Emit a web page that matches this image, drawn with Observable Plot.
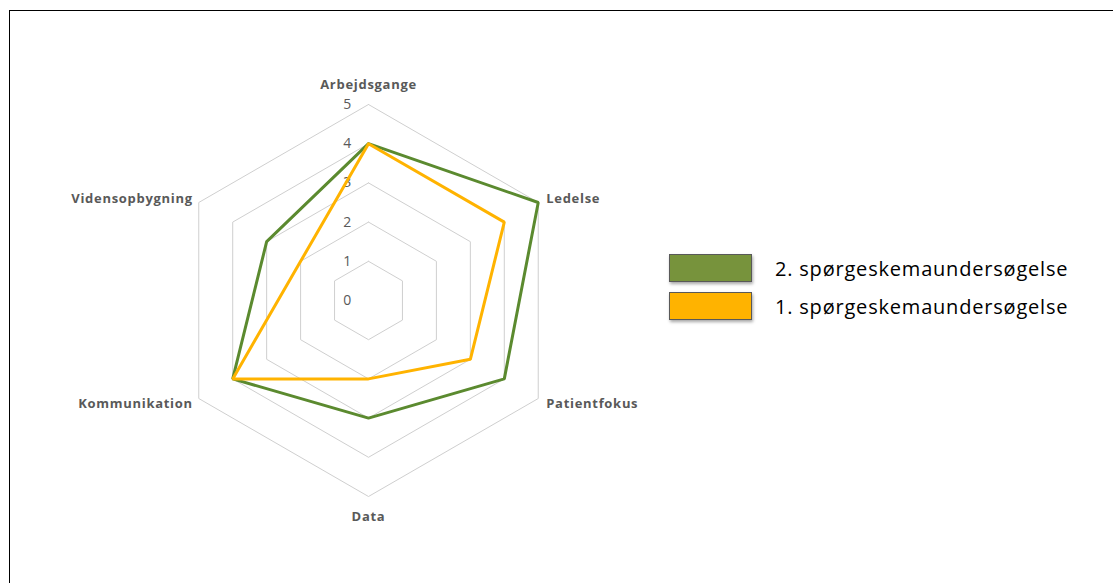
<!DOCTYPE html>
<html>
<head>
<meta charset="utf-8">
<script src="https://cdn.jsdelivr.net/npm/d3@7"></script>
<script src="https://cdn.jsdelivr.net/npm/@observablehq/plot@0.6"></script>
<style>
  html, body { margin: 0; padding: 0; background: #fff; overflow: hidden; }
  #wrap { position: relative; width: 1113px; height: 583px; overflow: hidden; }
  #frame { position: absolute; left: 9px; top: 10px; width: 1130px; height: 600px; border: 1.5px solid #000; box-sizing: border-box; }
  #chart { position: absolute; left: 0; top: 0; }
  .leg { position: absolute; left: 669px; display: flex; align-items: center; font-family: "Open Sans", Lato, sans-serif; font-size: 20px; letter-spacing: 0.8px; color: #000; }
  .sw { width: 83px; height: 28px; border: 1.5px solid #595959; box-sizing: border-box; margin-right: 23px; box-shadow: 1px 2px 3px rgba(0,0,0,0.35); }
</style>
</head>
<body>
<div id="wrap">
  <div id="frame"></div>
  <div id="chart"></div>
  <div id="legend"></div>
</div>
<script>
const categories = ["Arbejdsgange", "Ledelse", "Patientfokus", "Data", "Kommunikation", "Vidensopbygning"];
const survey2 = [4, 5, 4, 3, 4, 3];
const survey1 = [4, 4, 3, 2, 4, 2];
const ticks = [0, 1, 2, 3, 4, 5];
const seriesNames = ["2. spørgeskemaundersøgelse", "1. spørgeskemaundersøgelse"];
const seriesColors = ["#5B8A2F", "#FFB300"];
const legendColors = ["#77933C", "#FFB300"];

const W = 1113, H = 583, cx = 368, cy = 300, unit = 39.2;
const n = categories.length;
const ang = i => (i * 2 * Math.PI) / n;
const px = (r, i) => r * Math.sin(ang(i));
const py = (r, i) => r * Math.cos(ang(i));

const rings = [];
for (const t of ticks.filter(t => t > 0)) {
  for (let i = 0; i <= n; i++) rings.push({ring: t, x: px(t, i % n), y: py(t, i % n)});
}
function poly(vals, name) {
  const out = [];
  for (let i = 0; i <= n; i++) out.push({series: name, x: px(vals[i % n], i % n), y: py(vals[i % n], i % n)});
  return out;
}
const lines1 = poly(survey1, seriesNames[1]);
const lines2 = poly(survey2, seriesNames[0]);
const labels = categories.map((c, i) => ({c, i, x: px(5, i), y: py(5, i)}));
const anchors = ["middle", "start", "start", "middle", "end", "end"];
const dxs = [0, 8, 8, 0, -6, -6];
const dys = [-20, -4, 5, 20, 5, -4];
const tickData = ticks.map(t => ({t, x: -21 / unit, y: t}));

const chart = Plot.plot({
  width: W, height: H,
  margin: 0,
  x: {domain: [-cx / unit, (W - cx) / unit], range: [0, W], axis: null},
  y: {domain: [-(H - cy) / unit, cy / unit], range: [H, 0], axis: null},
  style: {background: "transparent", overflow: "visible", letterSpacing: "0.7px"},
  marks: [
    Plot.line(rings, {x: "x", y: "y", z: "ring", stroke: "#CFCFCF", strokeWidth: 1}),
    Plot.text(tickData, {x: "x", y: "y", text: d => String(d.t), fill: "#595959", fontSize: 14, fontFamily: "'Open Sans', Lato, sans-serif"}),
    Plot.line(lines2, {x: "x", y: "y", stroke: seriesColors[0], strokeWidth: 3, strokeLinejoin: "miter"}),
    Plot.line(lines1, {x: "x", y: "y", stroke: seriesColors[1], strokeWidth: 3, strokeLinejoin: "miter"}),
    ...labels.map((d, k) => Plot.text([d], {x: "x", y: "y", text: "c", textAnchor: anchors[k], dx: dxs[k], dy: dys[k], fill: "#595959", fontWeight: "bold", fontSize: 13, fontFamily: "'Open Sans', Lato, sans-serif"}))
  ]
});
document.getElementById("chart").appendChild(chart);

const legend = document.getElementById("legend");
const tops = [254, 292];
seriesNames.forEach((name, k) => {
  const row = document.createElement("div");
  row.className = "leg";
  row.style.top = tops[k] + "px";
  const sw = document.createElement("div");
  sw.className = "sw";
  sw.style.background = legendColors[k];
  const tx = document.createElement("span");
  tx.textContent = name;
  row.appendChild(sw);
  row.appendChild(tx);
  legend.appendChild(row);
});
</script>
</body>
</html>
